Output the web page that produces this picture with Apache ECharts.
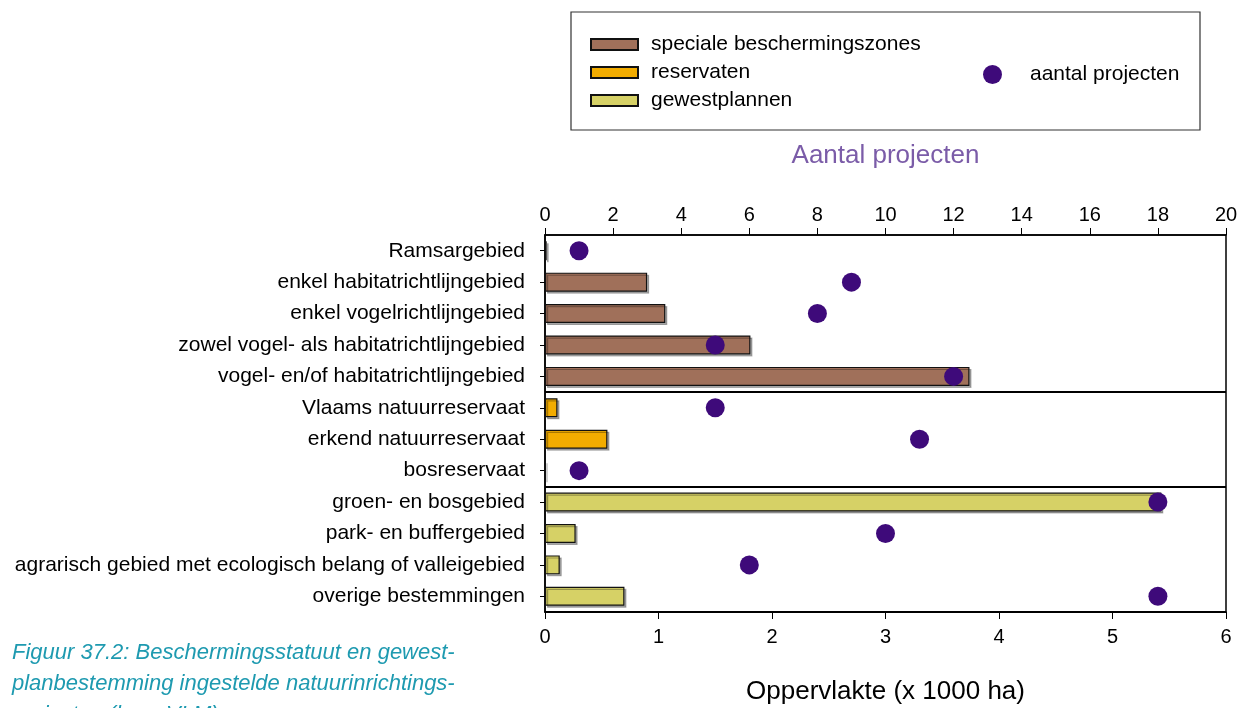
<!DOCTYPE html>
<html><head><meta charset="utf-8">
<script src="https://cdn.jsdelivr.net/npm/echarts@6/dist/echarts.min.js"></script>
<style>html,body{margin:0;padding:0;background:#fff}#c{width:1246px;height:708px}</style>
</head><body><div id="c"></div>
<script>
const categories = ["Ramsargebied","enkel habitatrichtlijngebied","enkel vogelrichtlijngebied","zowel vogel- als habitatrichtlijngebied","vogel- en/of habitatrichtlijngebied","Vlaams natuurreservaat","erkend natuurreservaat","bosreservaat","groen- en bosgebied","park- en buffergebied","agrarisch gebied met ecologisch belang of valleigebied","overige bestemmingen"];
const specialeZones = [0.015,0.90,1.06,1.81,3.74,null,null,null,null,null,null,null];
const reservaten = [null,null,null,null,null,0.11,0.55,0,null,null,null,null];
const gewestplannen = [null,null,null,null,null,null,null,null,5.43,0.27,0.13,0.70];
const aantalProjecten = [1,9,8,5,12,5,11,1,18,10,6,18];
const bottomTicks = [0,6,1];
const topTicks = [0,20,2];

const font = "Liberation Sans, Arial, sans-serif";
const barStyle = c => ({color:c,borderColor:'#111',borderWidth:1.2,shadowColor:'rgba(0,0,0,0.3)',shadowOffsetX:2,shadowOffsetY:2,shadowBlur:0});
const chart = echarts.init(document.getElementById('c'));
chart.setOption({
  animation:false,
  textStyle:{fontFamily:font},
  grid:{left:545,right:20,top:235,bottom:96,show:true,borderColor:'#000',borderWidth:1.5,backgroundColor:'transparent',outerBoundsMode:'none',containLabel:false},
  legend:[
    {orient:'vertical',left:585,top:29,itemWidth:47,itemHeight:11,itemGap:7,icon:'rect',
     textStyle:{fontSize:21,color:'#000',fontFamily:font,padding:[0,0,0,8]},
     data:['speciale beschermingszones','reservaten','gewestplannen']},
    {left:978,top:59,itemWidth:19,itemHeight:19,itemGap:10,
     textStyle:{fontSize:21,color:'#000',fontFamily:font,padding:[0,0,0,23]},
     data:['aantal projecten']}
  ],
  graphic:[
    {type:'rect',shape:{x:571,y:12,width:629,height:118},style:{fill:'none',stroke:'#333',lineWidth:1.2}},
    {type:'text',left:12,top:637,style:{text:'Figuur 37.2: Beschermingsstatuut en gewest-\nplanbestemming ingestelde natuurinrichtings-\nprojecten (bron VLM)',font:'italic 22px Liberation Sans, Arial, sans-serif',fill:'#1E9AB0',lineHeight:31}}
  ],
  xAxis:[
    {type:'value',position:'bottom',min:bottomTicks[0],max:bottomTicks[1],interval:bottomTicks[2],
     axisLine:{show:true,lineStyle:{color:'#000',width:1.5}},axisTick:{show:true,length:7,lineStyle:{color:'#000'}},
     splitLine:{show:false},axisLabel:{fontSize:20,color:'#000',margin:15},
     name:'Oppervlakte (x 1000 ha)',nameLocation:'middle',nameGap:67,nameTextStyle:{fontSize:26,color:'#000'}},
    {type:'value',position:'top',min:topTicks[0],max:topTicks[1],interval:topTicks[2],
     axisLine:{show:true,lineStyle:{color:'#000',width:1.5}},axisTick:{show:true,length:7,lineStyle:{color:'#000'}},
     splitLine:{show:false},axisLabel:{fontSize:20,color:'#000',margin:10},
     name:'Aantal projecten',nameLocation:'middle',nameGap:66,nameTextStyle:{fontSize:26,color:'#7B5CA8'}}
  ],
  yAxis:{type:'category',data:categories,inverse:true,
     axisLine:{show:true,lineStyle:{color:'#000',width:1.5}},
     axisTick:{show:true,alignWithLabel:true,length:5,lineStyle:{color:'#000'}},
     axisLabel:{fontSize:21,color:'#000',margin:20},
     splitLine:{show:true,interval:(i)=>i===5||i===8,lineStyle:{color:'#000',width:1.8}}},
  series:[
    {name:'speciale beschermingszones',type:'bar',stack:'s',barWidth:19,data:specialeZones,itemStyle:barStyle('#A0705A'),xAxisIndex:0},
    {name:'reservaten',type:'bar',stack:'s',barWidth:19,data:reservaten,itemStyle:barStyle('#F2AC00'),xAxisIndex:0},
    {name:'gewestplannen',type:'bar',stack:'s',barWidth:19,data:gewestplannen,itemStyle:barStyle('#D6D166'),xAxisIndex:0},
    {name:'aantal projecten',type:'scatter',xAxisIndex:1,symbolSize:19,data:aantalProjecten,itemStyle:{color:'#3E0A7A',opacity:1},z:5}
  ]
});
</script></body></html>
